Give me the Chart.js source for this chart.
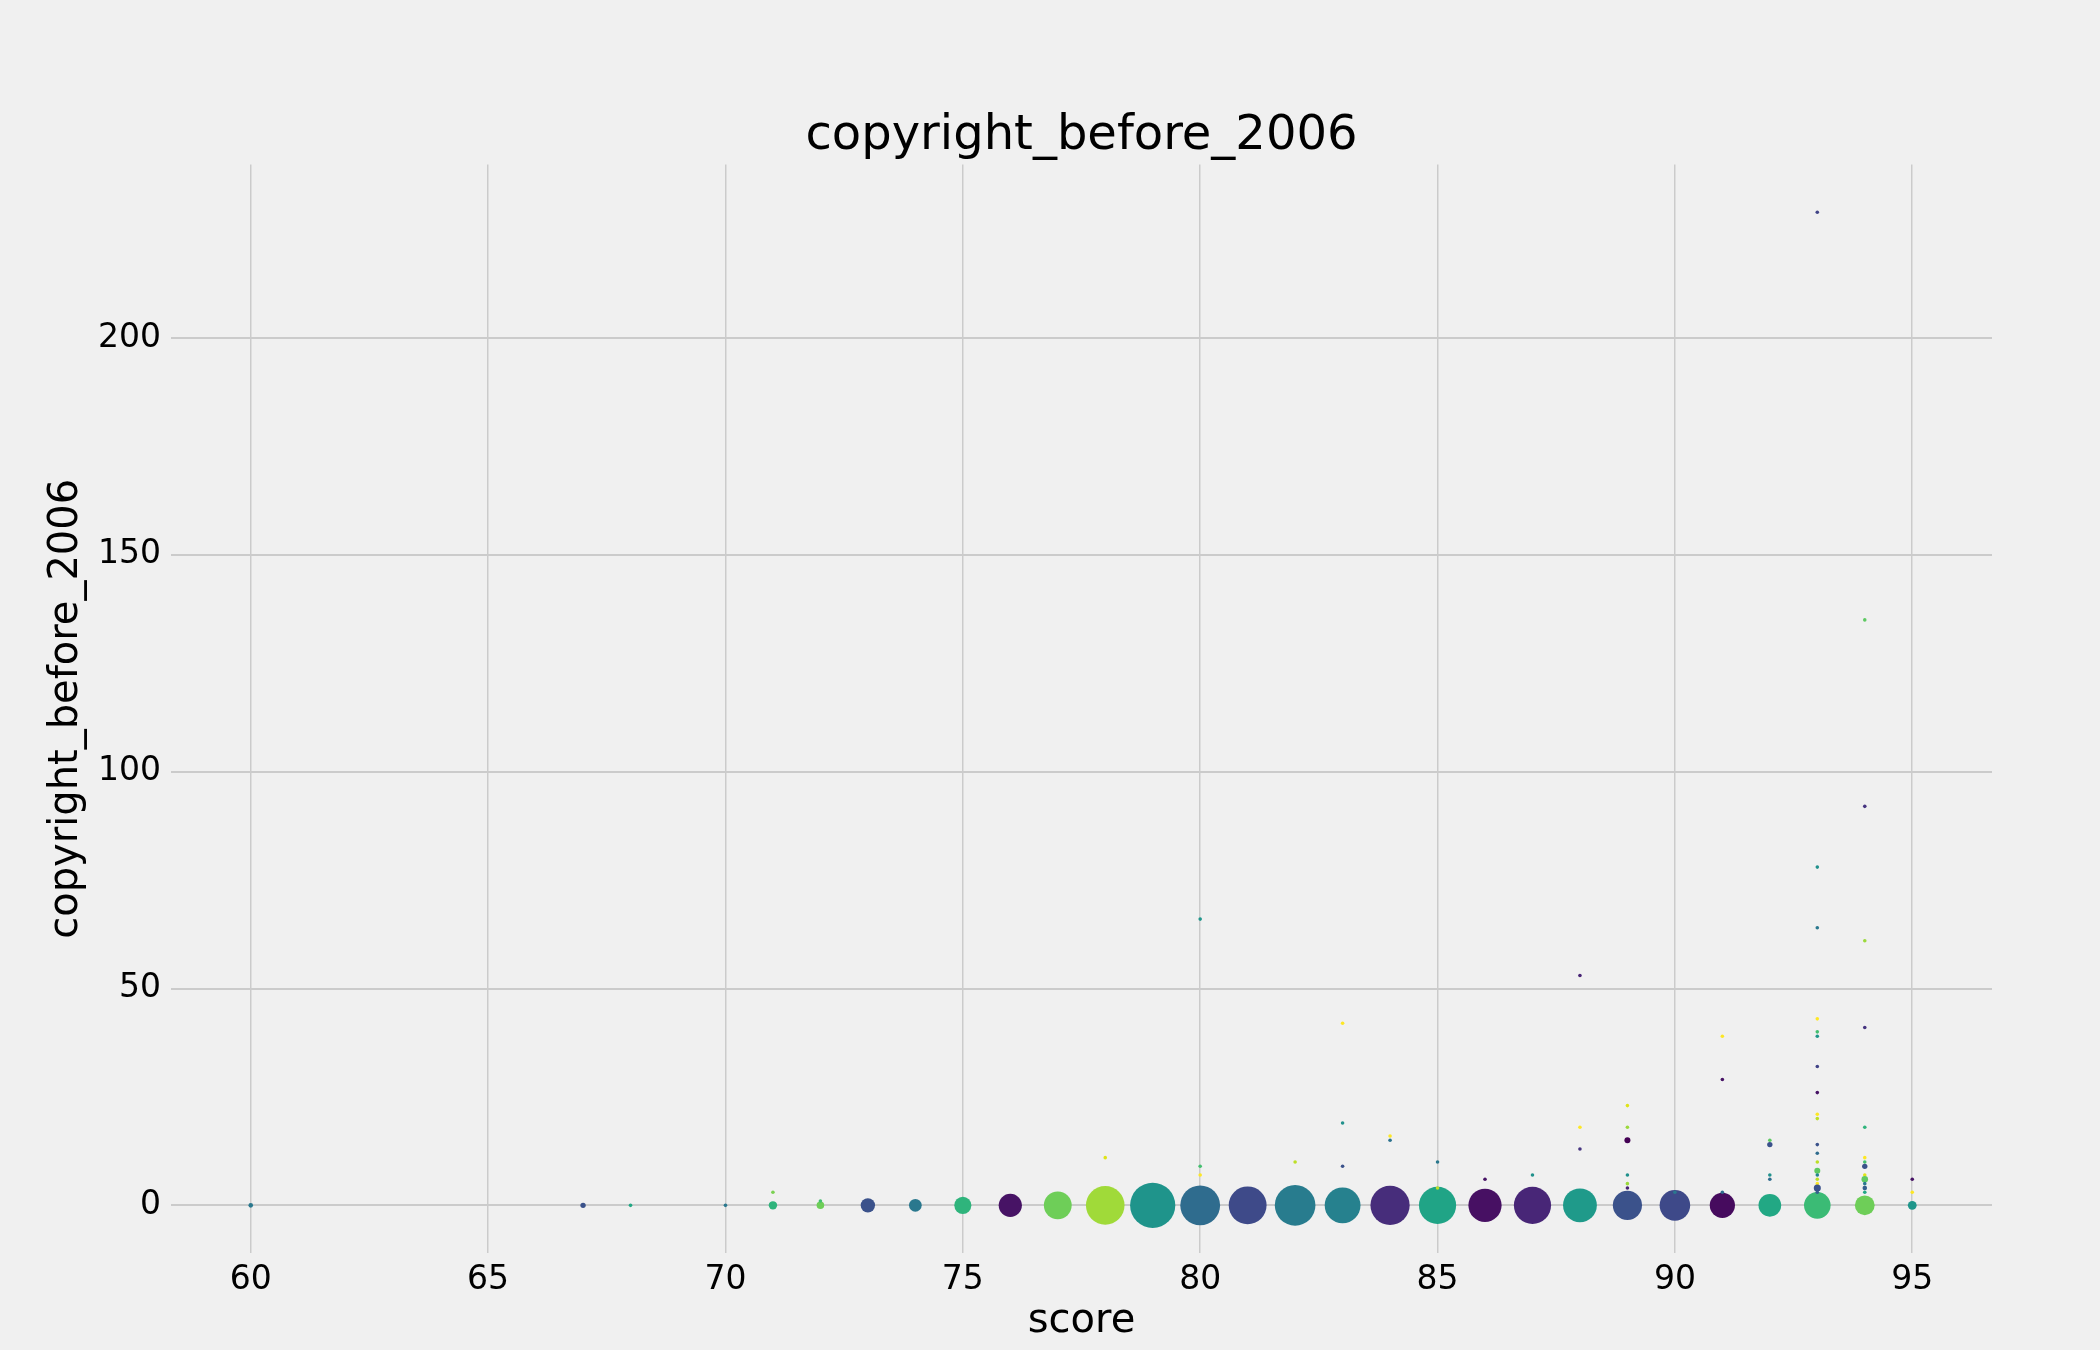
<!DOCTYPE html>
<html>
<head>
<meta charset="utf-8">
<title>copyright_before_2006</title>
<script src="https://cdn.jsdelivr.net/npm/chart.js@4.4.1/dist/chart.umd.min.js"></script>
<style>
  html, body { margin: 0; padding: 0; background: #f0f0f0; }
  #wrap { width: 2100px; height: 1350px; }
</style>
</head>
<body>
<div id="wrap"><canvas id="chart"></canvas></div>
<script>
// one entry per (score, value) pair; count = how many rows share it
// the y=0 pile first, then the scattered points above it (drawn on top)
const scores = [
  60, 67, 68, 70, 71, 72, 73, 74, 75, 76, 77, 78, 79, 80, 81, 82, 83, 84, 85, 86, 87, 88, 89, 90, 91, 92, 93, 94, 95,
  71, 72, 78, 80, 80, 80, 82, 83, 83, 83, 84, 84, 85, 85, 86, 87, 88, 88, 88,
  89, 89, 89, 89, 89, 89, 90, 91, 91, 91, 92, 92, 92, 92,
  93, 93, 93, 93, 93, 93, 93, 93, 93, 93, 93, 93, 93, 93, 93, 93, 93, 93, 93,
  94, 94, 94, 94, 94, 94, 94, 94, 94, 94, 94, 94, 94, 95, 95
];
const values = [
  0, 0, 0, 0, 0, 0, 0, 0, 0, 0, 0, 0, 0, 0, 0, 0, 0, 0, 0, 0, 0, 0, 0, 0, 0, 0, 0, 0, 0,
  3, 1, 11, 66, 9, 7, 10, 42, 19, 9, 16, 15, 10, 4, 6, 7, 53, 18, 13,
  23, 18, 15, 7, 5, 4, 3, 39, 29, 3, 15, 14, 7, 6,
  229, 78, 64, 43, 40, 39, 32, 26, 21, 20, 14, 12, 10, 8, 7, 6, 5, 4, 3,
  135, 92, 61, 41, 18, 11, 10, 9, 7, 6, 5, 4, 3, 6, 3
];
const counts = [
  2, 3, 1, 1, 9, 7, 30, 23, 44, 84, 123, 243, 336, 259, 233, 270, 208, 251, 225, 178, 225, 185, 136, 150, 100, 80, 112, 60, 10,
  1, 1, 1, 1, 1, 1, 1, 1, 1, 1, 1, 1, 1, 1, 1, 1, 1, 1, 1,
  1, 1, 4, 1, 1, 1, 1, 1, 1, 1, 1, 3, 1, 1,
  1, 1, 1, 1, 1, 1, 1, 1, 1, 1, 1, 1, 1, 4, 1, 1, 1, 6, 1,
  1, 1, 1, 1, 1, 1, 1, 3, 1, 5, 1, 2, 1, 1, 1
];
const pointColors = [
  '#2a788e', '#3b528b', '#22a884', '#2a788e', '#2fb47c', '#6ece58', '#3b528b', '#2a788e', '#2fb47c', '#471365',
  '#6ece58', '#a0da39', '#1f948b', '#2f6c8e', '#3e4a89', '#287c8e', '#26818e', '#472d7b', '#20a486', '#471063',
  '#482677', '#1f9a8a', '#3b528b', '#3e4989', '#460b5e', '#22a884', '#3bbb75', '#6ece58', '#1f968b',
  '#7ad151', '#44bf70', '#dfe318', '#1f968b', '#44bf70', '#fde725', '#bddf26', '#fde725', '#21918c', '#3b528b',
  '#fde725', '#2c728e', '#2a788e', '#bddf26', '#471365', '#21918c', '#482475', '#fde725', '#463480',
  '#dfe318', '#9bd93c', '#440154', '#21918c', '#9bd93c', '#482475', '#2a788e', '#fde725', '#471365', '#2f6c8e',
  '#5ec962', '#3b528b', '#21918c', '#2f6c8e',
  '#414487', '#21918c', '#2a788e', '#fde725', '#44bf70', '#1f968b', '#414487', '#471365', '#fde725', '#bddf26',
  '#3b528b', '#2f6c8e', '#bddf26', '#5ec962', '#25848e', '#bddf26', '#fde725', '#3b528b', '#355f8d',
  '#5ec962', '#463480', '#9bd93c', '#463480', '#2fb47c', '#fde725', '#44bf70', '#3b528b', '#dfe318', '#5ec962',
  '#2a788e', '#355f8d', '#22a884', '#471365', '#fde725'
];
const xTicks = [60, 65, 70, 75, 80, 85, 90, 95];
const yTicks = [0, 50, 100, 150, 200];

// small margin around the data, as the original axes had
const xLo = Math.min(...scores), xHi = Math.max(...scores);
const yLo = Math.min(...values), yHi = Math.max(...values);
const xPad = (xHi - xLo) * 0.048, yPad = (yHi - yLo) * 0.048;

const points = scores.map((s, i) => ({ x: s, y: values[i] }));
const radius = ctx => 1.2 * Math.sqrt(counts[ctx.dataIndex]) + 0.6;

Chart.defaults.font.family = "'DejaVu Sans', sans-serif";
Chart.defaults.color = '#000';

const bg = {
  id: 'bg',
  beforeDraw(chart) {
    const c = chart.ctx;
    c.save();
    c.fillStyle = '#f0f0f0';
    c.fillRect(0, 0, chart.width, chart.height);
    c.restore();
  }
};

new Chart(document.getElementById('chart'), {
  type: 'scatter',
  data: {
    datasets: [{
      label: 'copyright_before_2006',
      data: points,
      backgroundColor: pointColors,
      borderWidth: 0,
      pointRadius: radius,
      pointHoverRadius: radius
    }]
  },
  options: {
    responsive: true,
    maintainAspectRatio: false,
    devicePixelRatio: 1,
    animation: false,
    layout: { padding: { left: 0, right: 108, top: 0, bottom: 0 } },
    plugins: {
      legend: { display: false },
      tooltip: { enabled: false },
      title: {
        display: true,
        fullSize: false,
        text: 'copyright_before_2006',
        font: { size: 48, weight: 'normal' },
        color: '#000',
        padding: { top: 108, bottom: -1 }
      }
    },
    scales: {
      x: {
        type: 'linear',
        min: xLo - xPad,
        max: xHi + xPad,
        afterBuildTicks: s => { s.ticks = xTicks.map(v => ({ value: v })); },
        afterFit: s => { s.height = 97; },
        grid: { color: '#cbcbcb', lineWidth: 1.5, drawTicks: false },
        border: { display: false },
        ticks: { font: { size: 33 }, padding: 8, maxRotation: 0 },
        title: {
          display: true,
          text: 'score',
          font: { size: 40 },
          padding: { top: 0, bottom: 4 }
        }
      },
      y: {
        type: 'linear',
        min: yLo - yPad,
        max: yHi + yPad,
        afterBuildTicks: s => { s.ticks = yTicks.map(v => ({ value: v })); },
        afterFit: s => { s.width = 171; },
        grid: { color: '#cbcbcb', lineWidth: 2, drawTicks: false },
        border: { display: false },
        ticks: { font: { size: 33 }, padding: 10 },
        title: {
          display: true,
          text: 'copyright_before_2006',
          font: { size: 40 },
          padding: { top: 43, bottom: 0 }
        }
      }
    }
  },
  plugins: [bg]
});
</script>
</body>
</html>
